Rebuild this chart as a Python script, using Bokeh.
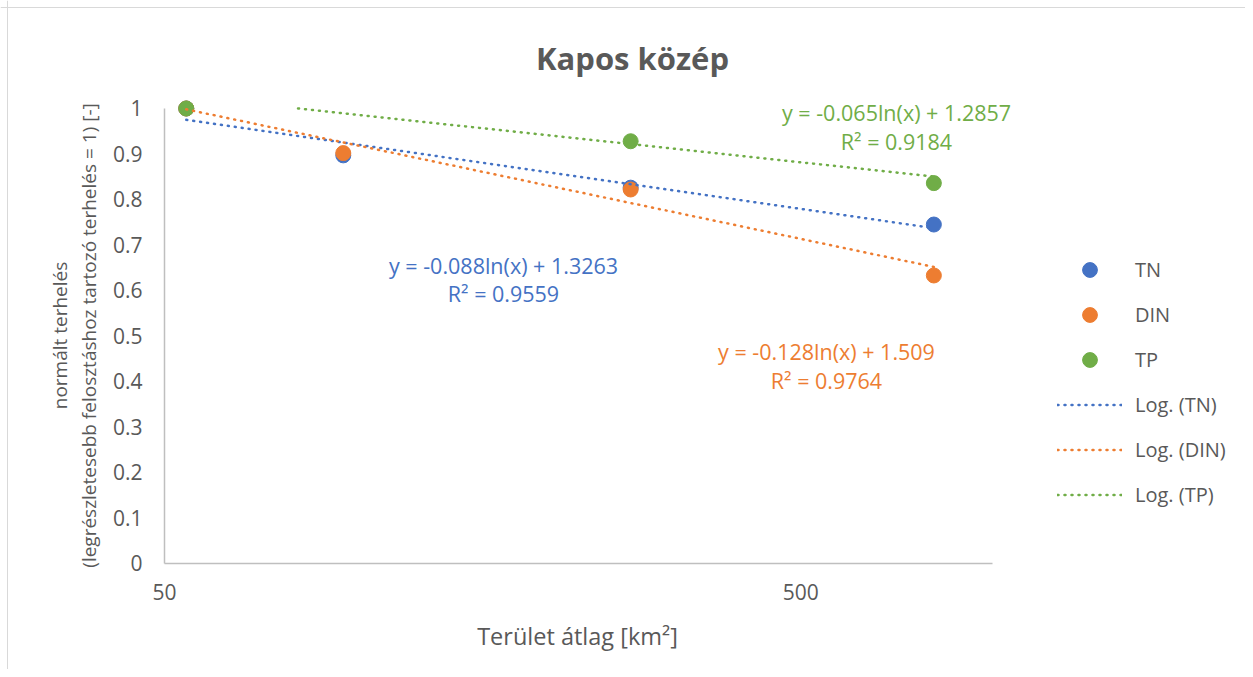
import math
from bokeh.plotting import figure
from bokeh.models import (Range1d, FixedTicker, Label, Legend, LegendItem, Span)
from bokeh.embed import file_html
from bokeh.resources import INLINE

# ---------------- data ----------------
area = [54.1, 95.5, 270.2, 809.6]            # Terület átlag [km2]
tn = [1.0, 0.897, 0.826, 0.745]
din = [1.0, 0.902, 0.822, 0.633]
tp = [1.0, float("nan"), 0.928, 0.836]       # 2nd TP value lies above the axis max (not shown)
series_names = ["TN", "DIN", "TP"]
colors = ["#4472C4", "#ED7D31", "#70AD47"]
slopes = [-0.088, -0.128, -0.065]
intercepts = [1.3263, 1.509, 1.2857]
r2_values = [0.9559, 0.9764, 0.9184]
x_ticks = [50, 500]
y_ticks = [0, 0.1, 0.2, 0.3, 0.4, 0.5, 0.6, 0.7, 0.8, 0.9, 1]
x_axis_bounds = (50, 1000)
y_axis_bounds = (0, 1)
title_text = "Kapos közép"
x_title = "Terület átlag [km²]"
y_title_lines = ["normált terhelés", "(legrészletesebb felosztáshoz tartozó terhelés = 1) [-]"]

FONT = "Open Sans"
TXT = "#595959"
AX = "#BFBFBF"
W, H = 1245, 669

# The frame covers the whole figure (so no text is clipped); the axes are
# drawn at fixed data locations and limited to their bounds.
p = figure(width=W, height=H, x_axis_type="log",
           x_range=Range1d(27.62, 2501), y_range=Range1d(-0.23297, 1.23736),
           output_backend="svg", toolbar_location=None,
           min_border_left=0, min_border_right=0,
           min_border_top=0, min_border_bottom=0)
p.outline_line_color = None
p.grid.visible = False
p.background_fill_color = "white"

# axes
p.xaxis.ticker = FixedTicker(ticks=x_ticks)
p.xaxis.major_label_overrides = {t: str(t) for t in x_ticks}
p.xaxis.bounds = x_axis_bounds
p.xaxis.fixed_location = y_axis_bounds[0]
p.yaxis.ticker = FixedTicker(ticks=y_ticks)
p.yaxis.major_label_overrides = {t: f"{t:g}" for t in y_ticks}
p.yaxis.bounds = y_axis_bounds
p.yaxis.fixed_location = x_axis_bounds[0]
for ax in (p.xaxis, p.yaxis):
    ax.axis_line_color = AX
    ax.axis_line_width = 1.5
    ax.major_tick_line_color = None
    ax.minor_tick_line_color = None
    ax.major_tick_out = 0
    ax.major_tick_in = 0
    ax.minor_tick_out = 0
    ax.minor_tick_in = 0
    ax.major_label_text_font = FONT
    ax.major_label_text_font_size = "21px"
    ax.major_label_text_color = TXT
p.yaxis.major_label_standoff = 22
p.xaxis.major_label_standoff = 21

# chart-area border (left and top edges visible in the picture)
p.add_layout(Span(location=7, location_units="screen", dimension="height",
                  line_color="#D9D9D9", line_width=1))
p.add_layout(Span(location=H - 7, location_units="screen", dimension="width",
                  line_color="#D9D9D9", line_width=1))

# markers
marker_renderers = []
for vals, c in zip([tn, din, tp], colors):
    r = p.scatter(area, vals, size=15, fill_color=c, line_color=c, marker="circle")
    marker_renderers.append(r)

# logarithmic trend lines (from the fitted equations), clipped at the axis maximum
trend_renderers = []
for a, b, c in zip(slopes, intercepts, colors):
    x_start = max(min(area), math.exp((y_axis_bounds[1] - b) / a))
    xs = [x_start, max(area)]
    ys = [a * math.log(x) + b for x in xs]
    r = p.line(xs, ys, line_color=c, line_width=2.5, line_dash="1 6", line_cap="round")
    trend_renderers.append(r)

def screen_label(x, y, text, size, color, angle=0.0, bold=False):
    p.add_layout(Label(x=x, y=H - y, x_units="screen", y_units="screen", text=text,
                       angle=angle, text_align="center", text_baseline="middle",
                       text_font=FONT, text_font_size=size, text_color=color,
                       text_font_style="bold" if bold else "normal"))

# equation labels (positions in picture pixels)
eq_pos = [((503, 265), (503, 293)), ((826, 351), (826, 380)), ((896, 112), (896, 141))]
for a, b, r2, c, (p1, p2) in zip(slopes, intercepts, r2_values, colors, eq_pos):
    screen_label(*p1, f"y = {a}ln(x) + {b}", "21.5px", c)
    screen_label(*p2, f"R² = {r2}", "21.5px", c)

# titles
screen_label(632, 57, title_text, "31px", TXT, bold=True)
screen_label(577, 635, x_title, "23.5px", TXT)
screen_label(59, 335, y_title_lines[0], "19px", TXT, angle=math.pi / 2)
screen_label(88, 335, y_title_lines[1], "19px", TXT, angle=math.pi / 2)

# legend
items = [LegendItem(label=n, renderers=[r]) for n, r in zip(series_names, marker_renderers)]
items += [LegendItem(label=f"Log. ({n})", renderers=[r]) for n, r in zip(series_names, trend_renderers)]
legend = Legend(items=items, location=(1057, H - 512.5), orientation="vertical", padding=0, margin=0,
                spacing=8, glyph_width=65, glyph_height=37, label_height=37, label_standoff=13,
                label_text_font=FONT, label_text_font_size="20px", label_text_color=TXT,
                border_line_color=None, background_fill_alpha=0)
p.add_layout(legend, "center")

open("out.html", "w").write(file_html(p, INLINE))
